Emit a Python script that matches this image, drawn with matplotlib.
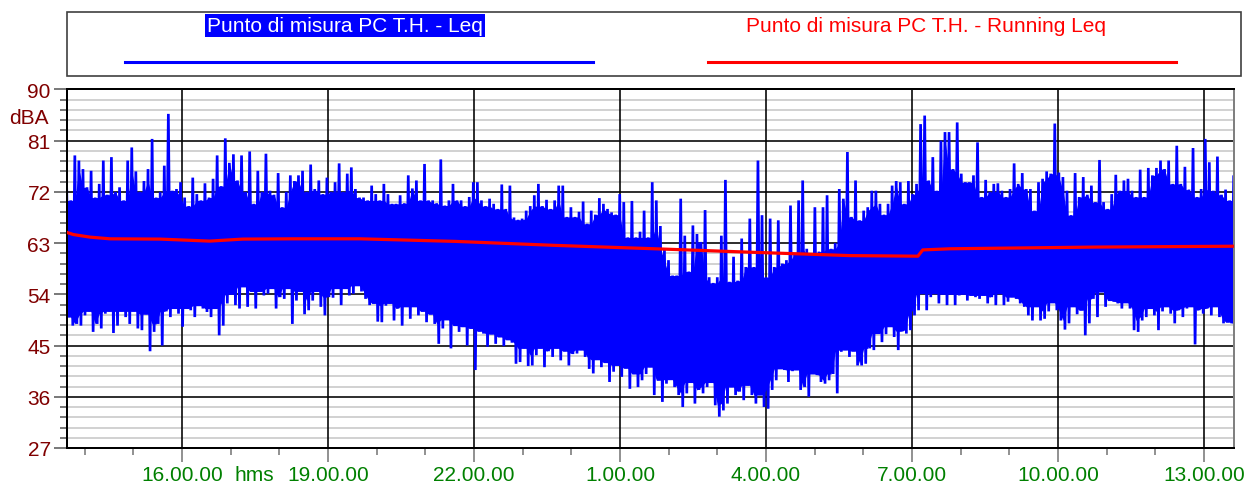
import matplotlib.pyplot as plt
import numpy as np
from matplotlib.ticker import MultipleLocator, FixedLocator
from matplotlib.patches import Rectangle
from matplotlib.lines import Line2D

plt.rcParams["font.family"] = ["Liberation Sans", "DejaVu Sans"]

# finestra di misura: 24 ore a partire dalle 13:38 (ore decimali, oltre le 24 = giorno dopo)
t_start = 13 + 38 / 60
t_end = t_start + 23.975

# Leq a 5 minuti: bordo superiore e inferiore della traccia blu (dBA)
leq_hi = [
    72.5, 70.5, 78.4, 77.5, 76, 72.8, 75.7, 71, 73.4, 77.5,
    71.5, 78.1, 72, 72.8, 70.5, 77.5, 79.8, 75.6, 72, 73.9,
    76, 81.3, 71, 72, 76.6, 85.7, 72.2, 72.5, 73.7, 71,
    69.5, 74.5, 71.6, 70.5, 73.5, 71, 74.3, 78.4, 73, 81.4,
    77.1, 78.6, 74, 78.4, 72, 79.1, 69.9, 75.7, 72, 78.7,
    72.2, 71.5, 75.3, 69.3, 72, 74.9, 73.9, 74.9, 75.7, 72,
    76.8, 72.5, 74, 71.6, 74.5, 72, 73.7, 77, 72, 75.2,
    76.3, 72.5, 71, 71, 70.5, 73.1, 71.6, 70.5, 73.4, 71.6,
    69.9, 69.9, 71.4, 70, 74.9, 72.6, 74, 70.5, 76.9, 70.5,
    70.5, 70, 77.7, 69.6, 70.5, 73.4, 70.5, 70.5, 69.5, 71.1,
    73.7, 73.7, 70.5, 69.5, 70.8, 69.9, 69, 73.3, 69, 73.1,
    67.5, 67.1, 67.3, 68.7, 69.5, 71.4, 73.4, 69.5, 70.6, 69,
    70.5, 73.1, 73.1, 67.6, 69.3, 67.6, 68.5, 70.3, 66.4, 68.7,
    68, 70.9, 69.9, 69, 68.4, 68, 71.6, 70.2, 64, 70.4,
    64, 65, 68.7, 64, 73.7, 70.5, 66, 62, 60, 57.3,
    57.3, 70.8, 64.3, 58, 66.1, 64.6, 63.2, 68.8, 57, 56,
    57, 64.3, 74.1, 56.2, 60.6, 56.4, 63.8, 58.8, 67.3, 58.8,
    77.5, 67.9, 57, 67.3, 58.8, 67, 59.4, 60, 69.6, 61,
    70.5, 74, 62, 61, 69.3, 61.5, 69.3, 71.4, 62, 63,
    72.5, 70.8, 79, 67.6, 74, 67, 68.7, 69.3, 72.2, 72.2,
    69.9, 68, 69.9, 73.1, 73.9, 73.7, 69.9, 73.9, 71.6, 73.4,
    83.9, 85.4, 74, 78.1, 72.2, 81, 82.5, 82.5, 76, 84.2,
    75.2, 73.7, 73.7, 74.9, 80.7, 71.1, 74.1, 72, 73.4, 73.5,
    72.2, 71.1, 72.5, 77, 73.4, 75.3, 72.5, 72.5, 68.7, 73.7,
    74.3, 75.6, 75.2, 84, 75.4, 74.6, 72.2, 67.9, 75.3, 71.1,
    74.6, 71.5, 73.1, 70.2, 77.6, 70.2, 69, 71.6, 75, 72.2,
    74, 74.3, 72.2, 71.1, 75.9, 71.1, 76.2, 74.9, 76.2, 77.5,
    76, 77.5, 73.4, 80.1, 73.4, 76.4, 72.4, 79.7, 71.1, 72.5,
    81.3, 77.2, 72.2, 78.2, 71.5, 72.4, 70.5, 74.9,
]
leq_lo = [
    50, 48.5, 48.8, 48.5, 50.3, 51, 47.4, 48.8, 48, 50.6,
    51, 47.2, 48.5, 51, 50, 48.8, 51, 48, 47.7, 50.5,
    44, 47.4, 48.8, 45, 51, 50, 51.5, 50.6, 48.3, 51.5,
    51.2, 50, 52, 51.5, 50.9, 50, 51.5, 46.8, 48.5, 52.4,
    54, 52.1, 51.5, 55.3, 51.8, 54.5, 51.5, 54.5, 53.8, 54.1,
    55, 51.5, 53.5, 53.2, 55, 48.8, 52.9, 54.5, 50.5, 51.2,
    52.9, 54.5, 51.8, 50.3, 53.5, 53.4, 55, 52.1, 55, 53.8,
    54.1, 55.5, 54.5, 53.2, 52.1, 52.4, 49.2, 49.1, 52, 52.4,
    49.4, 51.5, 48.5, 51.8, 49.7, 51.8, 50.3, 51, 49.1, 50.5,
    48.8, 45.3, 48, 49.5, 44.5, 48.5, 47.4, 48.3, 45, 48,
    40.7, 47.5, 47.1, 44.8, 47, 45.3, 46.5, 44.9, 46, 45.5,
    41.8, 42.1, 44.5, 41.4, 41.5, 43.3, 44.5, 41.2, 44, 43,
    44.5, 42.4, 44, 41.5, 43.5, 43.6, 44.2, 43, 40.9, 40.1,
    42.5, 41.2, 42, 38.6, 40.4, 41.5, 39.5, 41, 37.4, 40,
    37.7, 38.9, 40, 41.2, 36.3, 38.9, 35.1, 38.3, 39, 37.7,
    36.3, 34.2, 36.6, 38.5, 34.8, 37.2, 36.6, 37.7, 38.5, 34.5,
    32.5, 33.6, 34.8, 37.7, 36.3, 36.9, 35.4, 38, 36.3, 34.8,
    36.3, 34.2, 33.9, 37.2, 38.9, 40.9, 40.7, 38.6, 40.5, 40.7,
    37.2, 37.7, 36, 40, 39.8, 38.6, 38.3, 38.9, 40, 36.6,
    43.9, 44.2, 43, 44, 41.5, 41.5, 41.8, 44.5, 44.2, 47.1,
    45.6, 47, 48.3, 46.5, 44.2, 47.5, 47.1, 47.7, 50.3, 51.2,
    54.1, 51.2, 53.5, 54.1, 52.4, 54, 52.1, 54, 52.1, 53.8,
    54, 52.9, 53.8, 53.5, 53.2, 53.8, 52.4, 53.5, 52.1, 54.1,
    52.1, 52.7, 53.5, 53.2, 52.4, 51.8, 50.3, 49.4, 51.8, 49.4,
    49.7, 51, 52.5, 51.2, 49.4, 47.8, 48.9, 51.8, 50.5, 51.2,
    46.8, 48.9, 53.2, 50, 54.4, 51.8, 52.9, 52.7, 52.4, 51.5,
    52.5, 51.5, 47.7, 47.4, 49.4, 50, 51.5, 50.3, 47.7, 51,
    51.8, 50.6, 48.9, 51.2, 50, 51.5, 51.8, 45.2, 51.2, 50.6,
    51.5, 50.3, 51.8, 50, 48.9, 49.1, 48.9, 48.5,
]

# Running Leq (linea rossa)
run_t = [13.63, 13.77, 14.11, 14.52, 15.55, 16.57, 17.25, 18.28, 19.66, 21.61,
         23.66, 25.72, 27.67, 29.73, 31.12, 31.22, 31.78, 34.76, 37.61]
run_leq = [64.9, 64.5, 64.05, 63.75, 63.7, 63.35, 63.7, 63.75, 63.75, 63.3,
           62.6, 62.0, 61.4, 60.8, 60.7, 61.8, 62.0, 62.3, 62.45]

x_ticks = [16, 19, 22, 25, 28, 31, 34, 37]
x_labels = ["16.00.00", "19.00.00", "22.00.00", "1.00.00", "4.00.00",
            "7.00.00", "10.00.00", "13.00.00"]
y_ticks = [27, 36, 45, 54, 63, 72, 81, 90]

BLUE = "#0000ff"
RED = "#ff0000"
DARKRED = "#800000"
GREEN = "#008000"

W, H = 1252, 489
PT = 72 / 100  # pixel -> punti
fig = plt.figure(figsize=(W / 100, H / 100), dpi=100)
ax = fig.add_axes([66.7 / W, 1 - 449 / H, 1167 / W, 358.6 / H])

hi = np.array(leq_hi)
lo = np.array(leq_lo)
t = np.linspace(t_start, t_end, len(hi))
dt = t[1] - t[0]

# nucleo pieno: inviluppo interno dei campioni vicini
hp = np.pad(hi, 1, mode="edge")
lp = np.pad(lo, 1, mode="edge")
core_hi = np.minimum.reduce([hp[:-2], hp[1:-1], hp[2:]])
core_lo = np.maximum.reduce([lp[:-2], lp[1:-1], lp[2:]])
ax.fill_between(t, core_lo, core_hi, color=BLUE, lw=0, zorder=2)

# traccia a zig-zag max/min
zz_t = np.column_stack([t, t + dt / 2]).ravel()
zz_v = np.column_stack([hi, lo]).ravel()
ax.plot(zz_t, zz_v, color=BLUE, lw=2.7 * PT, zorder=2, solid_joinstyle="miter")

ax.plot(run_t, run_leq, color=RED, lw=3.2 * PT, zorder=3)

ax.set_xlim(t_start, t_end)
ax.set_ylim(27, 90)
ax.xaxis.set_major_locator(FixedLocator(x_ticks))
ax.set_xticklabels(x_labels)
ax.xaxis.set_minor_locator(MultipleLocator(1))
ax.yaxis.set_major_locator(FixedLocator(y_ticks))
ax.yaxis.set_minor_locator(MultipleLocator(1.8))

ax.set_axisbelow(True)
ax.xaxis.set_zorder(0.7)  # linee verticali sopra la griglia grigia
ax.yaxis.grid(True, which="minor", color="#c8c8c8", lw=1.6 * PT)
ax.yaxis.grid(True, which="major", color="black", lw=1.6 * PT)
ax.xaxis.grid(True, which="major", color="black", lw=1.6 * PT)

ax.tick_params(axis="y", which="major", length=13 * PT, width=1.5 * PT, color="#505050",
               labelcolor=DARKRED, labelsize=15, pad=3 * PT)
ax.tick_params(axis="y", which="minor", length=7 * PT, width=1.5 * PT, color="#505050")
ax.tick_params(axis="x", which="major", length=14 * PT, width=1.5 * PT, color="#707070",
               labelcolor=GREEN, labelsize=15, pad=3 * PT)
ax.tick_params(axis="x", which="minor", length=7 * PT, width=1.5 * PT, color="#707070")

for side in ["left", "bottom", "top"]:
    ax.spines[side].set_color("black")
    ax.spines[side].set_linewidth(2 * PT)
ax.spines["right"].set_color("#808080")
ax.spines["right"].set_linewidth(2 * PT)

ax.text(17.48, -17 / 358.6, "hms", transform=ax.get_xaxis_transform(),
        ha="center", va="top", color=GREEN, fontsize=15)
fig.text(49 / W, 1 - 118 / H, "dBA", ha="right", va="center",
         color=DARKRED, fontsize=15)

# riquadro legenda
fig.add_artist(Rectangle((67 / W, 1 - 77.3 / H), 1174 / W, 64.6 / H,
                         transform=fig.transFigure, fill=False,
                         edgecolor="#404040", lw=1.2))
fig.text(345 / W, 1 - 26.5 / H, "Punto di misura PC T.H. - Leq", ha="center",
         va="center", color="white", fontsize=15,
         bbox=dict(facecolor=BLUE, edgecolor="none", pad=1.5))
fig.text(926 / W, 1 - 26.5 / H, "Punto di misura PC T.H. - Running Leq",
         ha="center", va="center", color=RED, fontsize=15)
fig.add_artist(Line2D([124.5 / W, 593 / W], [1 - 63.3 / H] * 2,
                      transform=fig.transFigure, color=BLUE, lw=2.2))
fig.add_artist(Line2D([708 / W, 1176 / W], [1 - 63.3 / H] * 2,
                      transform=fig.transFigure, color=RED, lw=2.2))

fig.savefig("out.png", dpi=100)
